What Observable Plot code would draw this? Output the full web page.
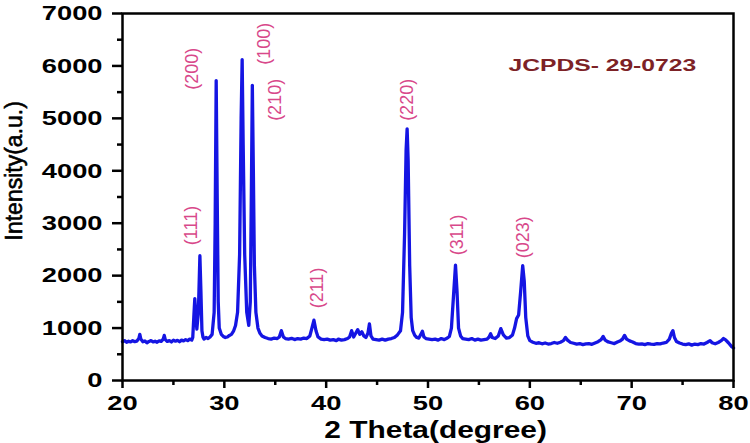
<!DOCTYPE html>
<html>
<head>
<meta charset="utf-8">
<script src="https://cdn.jsdelivr.net/npm/d3@7"></script>
<script src="https://cdn.jsdelivr.net/npm/@observablehq/plot@0.6"></script>
<style>
  html, body { margin: 0; padding: 0; background: #fff; }
  #chart { width: 750px; height: 443px; }
</style>
</head>
<body>
<div id="chart"></div>
<script>
// 2θ (degree) values
const theta = [
  20.0, 20.2, 20.4, 20.6, 20.8, 21.0, 21.2, 21.4, 21.6, 21.7, 21.8, 22.0, 22.2, 22.4, 22.6, 22.8,
  23.0, 23.2, 23.4, 23.6, 23.8, 24.0, 24.1, 24.2, 24.4, 24.6, 24.8, 25.0, 25.2, 25.4, 25.6, 25.8,
  26.0, 26.2, 26.4, 26.6, 26.8, 26.9, 27.0, 27.1, 27.2, 27.3, 27.45, 27.6, 27.7, 27.8, 27.9, 28.0,
  28.2, 28.4, 28.6, 28.8, 29.0, 29.1, 29.2, 29.3, 29.4, 29.5, 29.7, 29.9, 30.1, 30.3, 30.5, 30.7,
  30.9, 31.1, 31.3, 31.5, 31.65, 31.75, 31.85, 32.0, 32.2, 32.4, 32.55, 32.65, 32.75, 32.85, 32.95, 33.1,
  33.3, 33.5, 33.7, 34.0, 34.3, 34.6, 34.9, 35.2, 35.4, 35.6, 35.8, 36.0, 36.3, 36.6, 36.9, 37.2,
  37.5, 37.8, 38.1, 38.4, 38.6, 38.8, 39.0, 39.2, 39.5, 39.8, 40.1, 40.4, 40.7, 41.0, 41.2, 41.5,
  41.8, 42.1, 42.3, 42.5, 42.7, 42.9, 43.1, 43.3, 43.5, 43.7, 43.9, 44.1, 44.25, 44.4, 44.6, 44.9,
  45.2, 45.5, 45.8, 46.1, 46.4, 46.7, 47.0, 47.3, 47.5, 47.7, 47.85, 47.95, 48.05, 48.2, 48.35, 48.5,
  48.7, 48.9, 49.1, 49.3, 49.45, 49.6, 49.8, 50.1, 50.4, 50.7, 51.0, 51.3, 51.6, 51.9, 52.1, 52.3,
  52.5, 52.7, 52.85, 53.0, 53.2, 53.4, 53.7, 54.0, 54.3, 54.6, 54.9, 55.2, 55.5, 55.8, 56.0, 56.15,
  56.3, 56.6, 56.9, 57.15, 57.4, 57.7, 58.0, 58.3, 58.5, 58.7, 58.9, 59.1, 59.3, 59.45, 59.6, 59.8,
  60.0, 60.3, 60.6, 60.9, 61.2, 61.5, 61.8, 62.1, 62.4, 62.7, 63.0, 63.3, 63.5, 63.7, 64.0, 64.3,
  64.6, 64.9, 65.2, 65.5, 65.8, 66.1, 66.4, 66.7, 67.0, 67.2, 67.4, 67.7, 68.0, 68.3, 68.6, 68.9,
  69.1, 69.3, 69.5, 69.8, 70.1, 70.4, 70.7, 71.0, 71.3, 71.6, 71.9, 72.2, 72.5, 72.8, 73.1, 73.4,
  73.7, 73.9, 74.05, 74.2, 74.4, 74.7, 75.0, 75.3, 75.6, 75.9, 76.2, 76.5, 76.8, 77.1, 77.4, 77.7,
  77.9, 78.2, 78.5, 78.8, 79.0, 79.2, 79.5, 79.8, 80.0
];
// Intensity (a.u.)
const intensity = [
  740, 760, 730, 750, 735, 760, 740, 750, 800, 880, 790, 740, 755, 720, 745, 760,
  735, 750, 730, 755, 745, 790, 860, 780, 745, 760, 735, 770, 750, 765, 740, 770,
  755, 780, 760, 790, 770, 820, 1200, 1560, 1250, 980, 1300, 2380, 1700, 950, 830, 790,
  820, 800, 830, 880, 1300, 3000, 5720, 3500, 1500, 1000, 880, 840, 820, 830, 860, 880,
  940, 1050, 1300, 2400, 5000, 6120, 4500, 2400, 1300, 1050, 1500, 3500, 5630, 4000, 2200, 1300,
  1000, 900, 850, 820, 800, 790, 810, 800, 830, 950, 830, 800, 790, 805, 780, 800,
  790, 810, 800, 850, 1000, 1150, 950, 830, 790, 780, 790, 770, 780, 760, 790, 770,
  780, 800, 830, 950, 830, 900, 970, 880, 930, 850, 820, 900, 1080, 850, 790, 780,
  770, 790, 770, 790, 800, 820, 870, 950, 1300, 2800, 4400, 4800, 4200, 2200, 1200, 950,
  860, 820, 810, 880, 940, 830, 800, 790, 780, 790, 770, 800, 780, 810, 840, 1000,
  1600, 2200, 1700, 1000, 850, 800, 790, 780, 800, 770, 790, 770, 780, 790, 830, 890,
  820, 800, 850, 990, 870, 810, 820, 870, 1000, 1180, 1250, 1700, 2190, 1900, 1200, 850,
  760, 730, 710, 720, 700, 715, 695, 705, 725, 710, 730, 760, 820, 770, 725, 710,
  695, 705, 685, 700, 705, 690, 715, 740, 780, 840, 770, 735, 720, 705, 735, 760,
  790, 860, 790, 755, 735, 705, 695, 700, 685, 705, 695, 690, 705, 700, 715, 725,
  790, 900, 950, 820, 745, 715, 695, 685, 700, 675, 695, 685, 705, 695, 725, 760,
  720, 700, 725, 760, 800, 780, 720, 650, 620
];
// axis ticks
const xTicks = [20, 30, 40, 50, 60, 70, 80];
const xMinor = [25, 35, 45, 55, 65, 75];
const yTicks = [0, 1000, 2000, 3000, 4000, 5000, 6000, 7000];
const yMinor = [500, 1500, 2500, 3500, 4500, 5500, 6500];
// peak (hkl) annotations, anchored in data units
const hklText = ["(200)", "(111)", "(100)", "(210)", "(220)", "(211)", "(311)", "(023)"];
const hklX = [26.88, 26.78, 33.9, 35.03, 48.0, 39.15, 52.9, 59.4];
const hklY = [5545, 2581, 6023, 4952, 4952, 1377, 2390, 2333];
const cardText = ["JCPDS- 29-0723"];

const data = theta.map((t, i) => ({t, v: intensity[i]}));
const hkl = hklText.map((s, i) => ({s, x: hklX[i], y: hklY[i]}));

const plot = Plot.plot({
  width: 750,
  height: 443,
  marginLeft: 122,
  marginRight: 17,
  marginTop: 13,
  marginBottom: 63,
  style: {fontFamily: "'Liberation Sans', Arial, sans-serif", color: "#000", background: "#fff"},
  x: {domain: [20, 80]},
  y: {domain: [0, 7000]},
  marks: [
    Plot.line(data, {x: "t", y: "v", stroke: "#1515e3", strokeWidth: 3.3, strokeLinejoin: "round"}),
    Plot.frame({stroke: "#000", strokeWidth: 2.5}),
    Plot.axisY({ticks: yTicks, tickFormat: d => String(d), tickSize: 10, tickPadding: 10, fontSize: 21, fontWeight: "bold", label: null, strokeWidth: 2.5}),
    Plot.axisY({ticks: yMinor, tickSize: 5, text: null, label: null, strokeWidth: 2.5}),
    Plot.axisX({ticks: xTicks, tickFormat: d => String(d), tickSize: 8, tickPadding: 7, fontSize: 21, fontWeight: "bold", label: null, strokeWidth: 2.5}),
    Plot.axisX({ticks: xMinor, tickSize: 5, text: null, label: null, strokeWidth: 2.5}),
    Plot.text(hkl, {x: "x", y: "y", text: "s", rotate: -90, textAnchor: "start", lineAnchor: "middle", fontSize: 18, fill: "#d8488a"}),
    Plot.text(cardText, {x: 57.9, y: 6004, text: d => d, textAnchor: "start", lineAnchor: "middle", fontSize: 17, fontWeight: "bold", fill: "#7d2226"}),
    Plot.text(["2 Theta(degree)"], {x: 50.75, frameAnchor: "bottom", dy: 50, text: d => d, textAnchor: "middle", lineAnchor: "middle", fontSize: 23, fontWeight: "bold", fill: "#000"}),
    Plot.text(["Intensity(a.u.)"], {y: 4000, frameAnchor: "left", dx: -108, text: d => d, rotate: -90, textAnchor: "middle", lineAnchor: "middle", fontSize: 23, fill: "#000", stroke: "#000", strokeWidth: 0.6})
  ]
});

document.getElementById("chart").appendChild(plot);

// horizontally widen the bold (unrotated) labels as in the reference
d3.select(plot).selectAll("text").each(function() {
  const tr = this.getAttribute("transform") || "";
  if (tr.includes("rotate")) return;
  const L = this.getComputedTextLength();
  if (!L) return;
  const k = this.textContent.startsWith("JCPDS") ? 1.45 : 1.3;
  this.setAttribute("textLength", (L * k).toFixed(1));
  this.setAttribute("lengthAdjust", "spacingAndGlyphs");
});
</script>
</body>
</html>
